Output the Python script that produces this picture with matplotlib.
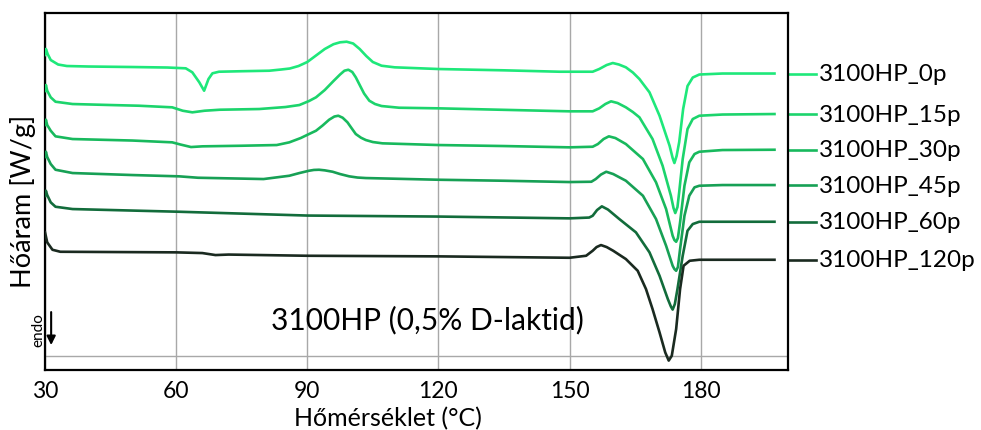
import matplotlib
matplotlib.use("Agg")
import matplotlib.pyplot as plt

plt.rcParams['font.family'] = ['Lato', 'DejaVu Sans']

# DSC curves, heat flow shifted per sample (arbitrary units, endo down)
t_0p = [30.0, 30.2, 30.6, 31.3, 33.0, 35, 40, 50, 58, 62.2, 63.7, 65.3, 66.4, 67.4, 68.3, 69.8,
        75, 81.3, 84, 86, 88, 90, 92, 94, 96, 97.5, 99, 100.5, 102, 103.5, 105, 107, 110, 120, 135,
        147.7, 155.3, 156.8, 158.5, 159.9, 161.3, 162.9, 164.5, 166.0, 168.3, 170.6, 172.9, 173.6,
        174.0, 174.5, 175.1, 176.0, 177.0, 178.2, 179.7, 185, 196.9]
hf_0p = [315, 321, 316, 310, 305.5, 304, 303.5, 303, 302.5, 301.7, 297.7, 287.7, 279.3, 291, 296.7,
         298.3, 298.8, 299.3, 300.5, 301.5, 304, 308, 314.5, 321, 325.8, 327.7, 328.3, 326.5, 321, 314,
         308, 304.3, 302.7, 301, 299.7, 298.3, 298.3, 301, 305, 307, 305.5, 302.7, 297.5, 291, 277.7,
         254.3, 224.3, 212, 207, 214, 228, 261, 284, 292.5, 295.5, 296.5, 296.5]

t_15p = [30.0, 30.2, 30.5, 31.3, 32.4, 36.3, 45, 51.5, 59.1, 61.5, 63.7, 66.5, 70, 79, 85, 88.2,
         90.4, 92.0, 94, 96, 97.5, 98.5, 99.4, 100.3, 101.1, 102, 103, 104.2, 105.5, 107, 111, 120,
         135, 150, 155.3, 156.8, 158.2, 159.5, 161, 162.9, 164.5, 166.0, 169.0, 171.3, 173.2, 173.8,
         174.2, 174.7, 175.1, 175.9, 177.0, 178.2, 179.7, 185, 196.9]
hf_15p = [279, 285, 279.3, 272.7, 268.3, 266, 265, 264.3, 262.7, 259.3, 257.7, 259.3, 260.3, 261, 263,
          265, 269, 272.7, 280, 289, 295.5, 299.3, 300.3, 298, 292.7, 285, 276.5, 269.3, 266, 264,
          262.3, 261.7, 260.2, 258.7, 258.7, 261.7, 266, 268.7, 267, 262.7, 258, 252.7, 231, 204.3,
          174.3, 162, 157, 163, 178, 211, 241, 251, 254.3, 255.5, 256]

t_30p = [30.0, 30.2, 30.5, 31.3, 32.4, 36.3, 50, 59.1, 61, 63.4, 66, 75, 83, 85.9, 88.5, 90.4, 92.0,
         93.5, 95.0, 96.2, 97.1, 98.1, 99.2, 100.2, 101.1, 102.3, 103.4, 105, 107.2, 120, 135, 150,
         155.3, 156.5, 157.8, 159.0, 160.5, 162.9, 166.8, 169.8, 172.1, 173.6, 174.0, 174.4, 174.8,
         175.3, 176.3, 177.4, 178.6, 179.7, 185, 196.9]
hf_30p = [245, 250.3, 245, 239.3, 233.7, 231, 229.5, 227.7, 225.5, 223, 223.7, 224.3, 225, 227.7, 232,
          236, 239.3, 244.5, 250.3, 253.5, 254.3, 252.3, 247.7, 241.5, 236, 232.3, 230, 228, 226.7,
          225, 224, 222.7, 223.3, 226, 231, 233.7, 232, 226, 211, 187.7, 161, 134.3, 130, 128.3, 132,
          147.7, 184.3, 207.7, 216, 218.3, 220, 220.3]

t_45p = [30.0, 30.2, 30.5, 31.3, 32.4, 36.3, 50, 60.7, 65, 80, 85.9, 88.2, 90.4, 91.5, 92.7, 94,
         95.8, 97.5, 99.6, 101.5, 103.4, 120, 135, 150, 155.0, 156.0, 157.2, 158.4, 160, 162.9, 166.8,
         169.8, 172.1, 173.6, 174.0, 174.4, 174.8, 175.3, 176.3, 177.4, 178.6, 179.7, 185, 196.9]
hf_45p = [213, 218.3, 213, 206, 200.3, 197, 195, 193.7, 192.3, 191, 194.3, 197, 199.3, 200.1, 200.3,
          199.7, 198.3, 196, 193.7, 192.5, 192, 190.3, 189.3, 188, 188.3, 191, 195.5, 198.3, 196,
          189.3, 174.3, 151, 124.3, 104.3, 101, 99.3, 103, 121, 154.3, 174.3, 182.7, 184.3, 185, 185]

t_60p = [30.0, 30.2, 30.5, 31.3, 32.4, 36.3, 60.7, 90, 120, 150, 154.5, 155.3, 156.3, 157.4, 158.8,
         161.4, 165.2, 168.3, 170.6, 172.5, 173.2, 173.6, 174.1, 174.7, 175.9, 177.0, 178.2, 179.7,
         196.9]
hf_60p = [174, 179.3, 175, 167.7, 163.3, 161, 158.3, 154.5, 153.5, 151.7, 152.5, 154.3, 160, 163.7,
          160.5, 151, 137.7, 117.7, 94.3, 71, 63.5, 60.5, 66, 81, 114.3, 139.3, 146, 148.3, 148.3]

t_120p = [30.0, 30.5, 31.7, 33.5, 60, 66, 69, 72, 90, 120, 150, 153.8, 155.3, 156.2, 157.2, 158.5,
          160.0, 162.9, 165.6, 167.5, 169.0, 170.6, 171.9, 172.7, 173.4, 174.4, 175.3, 176.1, 177.5,
          179.7, 196.9]
hf_120p = [137.7, 127.7, 120.3, 118.3, 117.7, 117, 115, 115.5, 114.3, 113.7, 112.3, 114.3, 119.3, 123,
           125, 123, 119.3, 111, 99.3, 81, 61, 37.7, 17.7, 9.5, 14.3, 41, 81, 104.3, 109.3, 110.3,
           110.3]

labels = ["3100HP_0p", "3100HP_15p", "3100HP_30p", "3100HP_45p", "3100HP_60p", "3100HP_120p"]
colors = ["#1ee87a", "#1cd46c", "#18b95d", "#17a055", "#126c3b", "#1a2a20"]
temps = [t_0p, t_15p, t_30p, t_45p, t_60p, t_120p]
flows = [hf_0p, hf_15p, hf_30p, hf_45p, hf_60p, hf_120p]

fig = plt.figure(figsize=(9.81, 4.31), dpi=100)
ax = fig.add_axes([0.0459, 0.139, 0.7574, 0.8285])

for t, hf, lab, c in zip(temps, flows, labels, colors):
    ax.plot(t, hf, color=c, lw=1.9, solid_joinstyle="round", zorder=3)
    # connector + name outside the frame
    ax.plot([200.3, 206.5], [hf[-1], hf[-1]], color=c, lw=1.9, clip_on=False)
    ax.text(207.0, hf[-1], lab, fontsize=17.5, va="center", ha="left", clip_on=False)

ax.set_xlim(30, 200)
ax.set_ylim(0, 357)
ax.set_xticks([30, 60, 90, 120, 150, 180])
ax.set_yticks([])
ax.tick_params(axis="x", length=0, labelsize=16.5, pad=7)
ax.grid(axis="x", color="#a8a8a8", lw=1)
ax.axhline(13.7, color="#a8a8a8", lw=1)
ax.set_axisbelow(True)
for s in ax.spines.values():
    s.set_linewidth(1.6)
    s.set_color("black")

ax.set_xlabel("Hőmérséklet (°C)", fontsize=18, va="center")
ax.xaxis.set_label_coords(0.462, -0.132)
ax.set_ylabel("Hőáram [W/g]", fontsize=19.5, va="center")
ax.yaxis.set_label_coords(-0.03, 0.476)

ax.text(117.5, 51, "3100HP (0,5% D-laktid)", fontsize=21.5, ha="center", va="center")
ax.text(-0.0094, 0.115, "endo", transform=ax.transAxes, rotation=90, fontsize=11,
        ha="center", va="center")
ax.annotate("", xy=(31.4, 25), xytext=(31.4, 58),
            arrowprops=dict(arrowstyle="-|>", color="black", lw=1.5, mutation_scale=13,
                            shrinkA=0, shrinkB=0))

fig.savefig("out.png", dpi=100)
